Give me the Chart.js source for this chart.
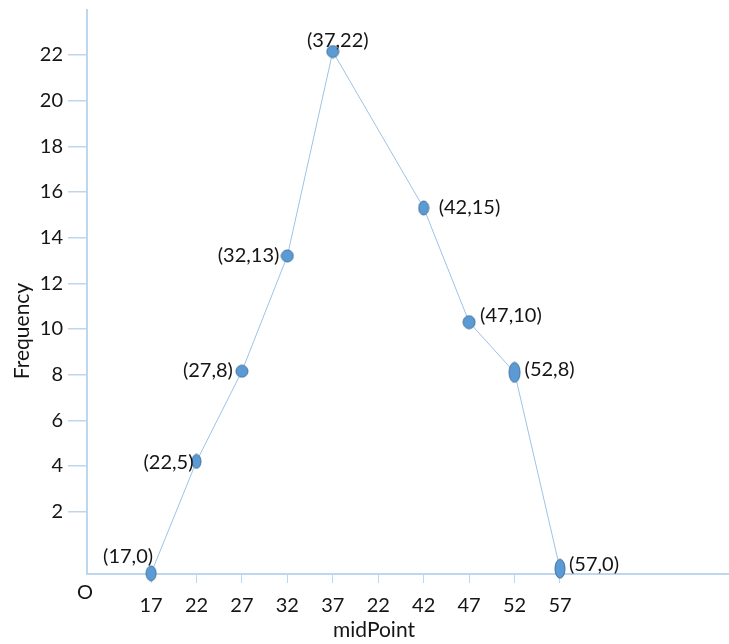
<!DOCTYPE html>
<html>
<head>
<meta charset="utf-8">
<script src="https://cdn.jsdelivr.net/npm/chart.js@4.4.1/dist/chart.umd.min.js"></script>
<style>
  html, body { margin: 0; padding: 0; background: #fff; }
  #wrap { width: 729px; height: 644px; }
</style>
</head>
<body>
<div id="wrap"><canvas id="polygon" width="729" height="644"></canvas></div>
<script>
// Catégories (axe des x) - le "22" en double est dans l'original
const midPoints = ["17", "22", "27", "32", "37", "22", "42", "47", "52", "57"];
// Fréquences (null = pas de point)
const frequencies = [-0.7, 4.2, 8.15, 13.2, 22.15, null, 15.3, 10.3, 8.1, -0.5];
// Étiquettes des points
const pointLabels = ["(17,0)", "(22,5)", "(27,8)", "(32,13)", "(37,22)", null, "(42,15)", "(47,10)", "(52,8)", "(57,0)"];
// Graduations de l'axe des y
const yTicks = [2, 4, 6, 8, 10, 12, 14, 16, 18, 20, 22];

// Placement des étiquettes : [dx, dy, align]
const labelPlace = [
    [-23, -17, "center"],
    [-3, 1, "right"],
    [-9, -1, "right"],
    [-8, 0, "right"],
    [5, -11, "center"],
    null,
    [15, 0, "left"],
    [11, -7, "left"],
    [10, -3, "left"],
    [9, -4, "left"]
];
// Taille des marqueurs [largeur, hauteur]
const markerSize = [[10, 15], [9, 14], [12, 12], [12, 12], [12, 12], null, [10, 14], [12, 13], [11, 20], [10, 19]];

const FONT = "Lato, 'Open Sans', sans-serif";
const TXT = "#151515";
const AXIS = "#bdd7ee";

function makeMarker(w, h) {
    const c = document.createElement("canvas");
    c.width = w + 2;
    c.height = h + 2;
    const g = c.getContext("2d");
    g.beginPath();
    g.ellipse(c.width / 2, c.height / 2, w / 2, h / 2, 0, 0, Math.PI * 2);
    g.fillStyle = "#5b9bd5";
    g.fill();
    g.lineWidth = 1;
    g.strokeStyle = "#41719c";
    g.stroke();
    return c;
}
const markers = markerSize.map(s => s ? makeMarker(s[0], s[1]) : null);

const points = [];
frequencies.forEach((v, i) => {
    if (v !== null) points.push({ x: i, y: v });
});

// Textes dessinés à la main : étiquettes, titres, "O"
const textPlugin = {
    id: "textes",
    afterDatasetsDraw(chart) {
        const ctx = chart.ctx;
        const xs = chart.scales.x;
        const ys = chart.scales.y;
        ctx.save();
        ctx.fillStyle = TXT;
        ctx.font = "20px " + FONT;
        ctx.textBaseline = "middle";
        pointLabels.forEach((txt, i) => {
            if (!txt) return;
            const p = labelPlace[i];
            ctx.textAlign = p[2];
            ctx.fillText(txt, xs.getPixelForValue(i) + p[0], ys.getPixelForValue(frequencies[i]) + p[1]);
        });

        ctx.textAlign = "center";
        ctx.fillText("O", 85, 593);
        ctx.font = "21px " + FONT;
        ctx.fillText("midPoint", 374, 630);

        ctx.translate(22, 331);
        ctx.rotate(-Math.PI / 2);
        ctx.fillText("Frequency", 0, 0);
        ctx.restore();
    }
};

new Chart(document.getElementById("polygon"), {
    type: "line",
    plugins: [textPlugin],
    data: {
        datasets: [{
            label: "Frequency",
            data: points,
            borderColor: "#9dc3e6",
            borderWidth: 1,
            tension: 0,
            fill: false,
            clip: false,
            pointStyle: ctx => markers[ctx.raw.x],
            pointRadius: 6,
            pointHoverRadius: 6
        }]
    },
    options: {
        responsive: false,
        animation: false,
        events: [],
        layout: { autoPadding: false, padding: { top: 10, right: 0, bottom: 0, left: 0 } },
        plugins: {
            legend: { display: false },
            tooltip: { enabled: false }
        },
        scales: {
            x: {
                type: "linear",
                min: -1.41,
                max: 12.72,
                afterBuildTicks: s => { s.ticks = midPoints.map((m, i) => ({ value: i })); },
                afterFit: s => {
                    s.height = 70;
                    s.paddingLeft = 0;
                    s.paddingRight = 0;
                },
                border: { display: true, color: AXIS, width: 2 },
                grid: { drawOnChartArea: false, drawTicks: true, tickLength: 9, color: AXIS, lineWidth: 1 },
                ticks: {
                    autoSkip: false,
                    maxRotation: 0,
                    padding: 11,
                    color: TXT,
                    font: { family: FONT, size: 20 },
                    callback: v => midPoints[v]
                }
            },
            y: {
                min: -0.73,
                max: 23.97,
                afterBuildTicks: s => { s.ticks = yTicks.map(v => ({ value: v })); },
                afterFit: s => {
                    s.width = 87;
                    s.paddingTop = 0;
                    s.paddingBottom = 0;
                },
                border: { display: true, color: AXIS, width: 2 },
                grid: { drawOnChartArea: false, drawTicks: true, tickLength: 19, color: AXIS, lineWidth: 1.5 },
                ticks: {
                    padding: 5,
                    color: TXT,
                    font: { family: FONT, size: 20 }
                }
            }
        }
    }
});
</script>
</body>
</html>
